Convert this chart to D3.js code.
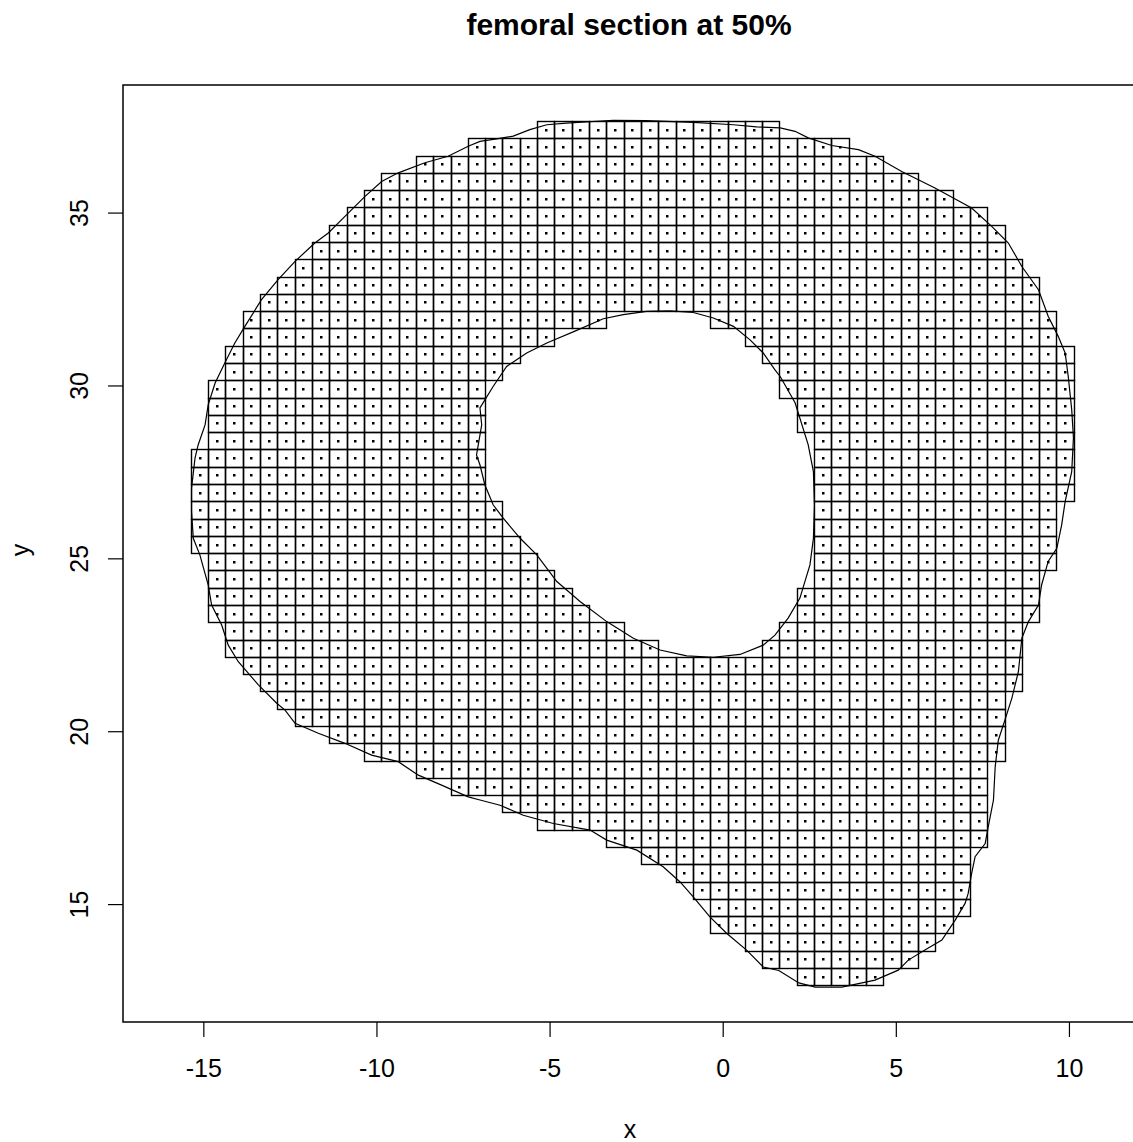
<!DOCTYPE html>
<html><head><meta charset="utf-8">
<script src="https://cdn.jsdelivr.net/npm/d3@7"></script>
<style>body{margin:0;background:#fff}</style>
</head><body>
<script>
// ---- data ----
const outerX = [-7.01,-6.53,-6.05,-5.57,-5.08,-4.51,-3.16,-2.20,-0.85,0.31,0.98,1.66,2.09,2.47,3.15,3.92,4.40,5.17,6.13,7.19,7.77,8.25,8.64,9.12,9.40,9.69,9.89,9.98,10.08,10.13,10.08,9.89,9.79,9.65,9.40,9.21,9.12,8.83,8.64,8.54,8.35,8.15,7.96,7.87,7.82,7.67,7.58,7.29,7.19,7.09,7.00,6.71,6.33,5.84,5.36,5.07,4.40,3.44,2.67,2.20,1.62,1.17,0.69,0.12,-0.37,-0.85,-1.23,-1.72,-2.48,-3.35,-3.83,-4.89,-5.76,-6.43,-7.01,-7.35,-8.12,-8.79,-9.37,-10.14,-10.91,-11.68,-12.35,-12.64,-12.88,-13.41,-13.99,-14.28,-14.47,-14.76,-14.86,-15.10,-15.29,-15.34,-15.34,-15.24,-15.15,-14.95,-14.86,-14.66,-14.38,-14.09,-13.80,-13.32,-12.84,-12.35,-11.78,-11.39,-10.91,-10.33,-9.85,-9.37,-8.60,-7.93,-7.35];
const outerY = [37.06,37.13,37.21,37.40,37.54,37.59,37.67,37.66,37.61,37.54,37.48,37.45,37.35,37.16,36.94,36.82,36.63,36.19,35.71,35.13,34.60,34.12,33.44,32.77,32.00,31.42,30.94,30.26,29.30,28.49,27.51,26.64,25.97,25.29,24.91,24.23,23.65,23.17,22.69,21.72,20.95,20.32,19.74,18.97,18.01,17.24,16.75,16.37,15.89,15.31,15.02,14.53,13.96,13.67,13.38,13.09,12.80,12.60,12.60,12.72,13.08,13.18,13.67,14.15,14.63,15.21,15.64,16.08,16.56,16.85,17.14,17.33,17.57,17.86,18.01,18.10,18.44,18.73,19.12,19.31,19.65,19.94,20.23,20.61,20.81,21.34,22.01,22.49,23.07,23.65,24.23,25.10,25.58,26.35,27.03,27.90,28.28,28.86,29.44,30.07,30.65,31.23,31.71,32.48,33.06,33.59,34.12,34.41,34.89,35.47,35.90,36.15,36.44,36.63,36.92];
const innerX = [-7.01,-6.63,-6.24,-5.66,-5.08,-4.25,-3.45,-2.87,-2.20,-1.52,-0.85,-0.27,0.31,0.79,1.17,1.51,1.66,2.09,2.47,2.62,2.65,2.62,2.52,2.23,1.89,1.51,1.17,0.50,-0.27,-1.04,-1.81,-2.58,-3.35,-4.12,-4.79,-5.37,-5.85,-6.34,-6.63,-6.87,-7.01,-7.11,-6.96];
const innerY = [29.35,29.97,30.55,30.94,31.23,31.58,31.93,32.05,32.14,32.16,32.11,31.95,31.71,31.32,30.94,30.45,30.26,29.50,28.28,27.51,26.55,25.58,24.81,23.85,23.27,22.78,22.49,22.22,22.14,22.18,22.35,22.69,23.17,23.75,24.33,25.10,25.58,26.16,26.55,27.13,27.70,27.99,28.86];
const xTicks = [-15, -10, -5, 0, 5, 10];
const yTicks = [15, 20, 25, 30, 35];
const cellSize = 0.5;
const gridX0 = -15.36, gridNX = 51;
const gridY0 = 12.65, gridNY = 50;
const titleText = "femoral section at 50%";

// ---- drawing ----
const W = 1133, H = 1142;
const FONT = "'Liberation Sans', Arial, Helvetica, sans-serif";
const svg = d3.select("body").append("svg").attr("width", W).attr("height", H);
svg.append("rect").attr("width", W).attr("height", H).attr("fill", "#fff");

const x = d3.scaleLinear().domain([-17.32, 12.11]).range([123, 1142]);
const y = d3.scaleLinear().domain([11.59, 38.69]).range([1022, 85]);

const outer = outerX.map((v, i) => [v, outerY[i]]);
const inner = innerX.map((v, i) => [v, innerY[i]]);

const cells = [];
for (let i = 0; i < gridNX; i++) {
  for (let j = 0; j < gridNY; j++) {
    const x0 = gridX0 + i * cellSize, y0 = gridY0 + j * cellSize;
    const c = [x0 + cellSize / 2, y0 + cellSize / 2];
    if (d3.polygonContains(outer, c) && !d3.polygonContains(inner, c)) cells.push({x0, y0, cx: c[0], cy: c[1]});
  }
}

const gCells = svg.append("g");
gCells.selectAll("rect.cell").data(cells).join("rect")
  .attr("class", "cell")
  .attr("x", d => Math.round(x(d.x0)) + 0.5)
  .attr("y", d => Math.round(y(d.y0 + cellSize)) + 0.5)
  .attr("width", d => Math.round(x(d.x0 + cellSize)) - Math.round(x(d.x0)))
  .attr("height", d => Math.round(y(d.y0)) - Math.round(y(d.y0 + cellSize)))
  .attr("fill", "none").attr("stroke", "#000").attr("stroke-width", 1.4);

gCells.selectAll("rect.dot").data(cells).join("rect")
  .attr("class", "dot")
  .attr("x", d => Math.round(x(d.cx)) - 1)
  .attr("y", d => Math.round(y(d.cy)) - 1)
  .attr("width", 2.5).attr("height", 2.5)
  .attr("fill", "#000");

const line = d3.line().x(d => x(d[0])).y(d => y(d[1]));
svg.append("path").attr("d", line(outer) + "Z").attr("fill", "none").attr("stroke", "#000").attr("stroke-width", 1.2);
svg.append("path").attr("d", line(inner) + "Z").attr("fill", "none").attr("stroke", "#000").attr("stroke-width", 1.2);

// box
svg.append("rect").attr("x", 123).attr("y", 85).attr("width", 1142 - 123).attr("height", 1022 - 85)
  .attr("fill", "none").attr("stroke", "#000").attr("stroke-width", 1.5);

// x axis
const gx = svg.append("g").attr("transform", "translate(0,1022)")
  .call(d3.axisBottom(x).tickValues(xTicks).tickSize(15).tickPadding(22).tickFormat(d => String(d)));
gx.select(".domain").remove();
gx.selectAll("line").attr("stroke", "#000").attr("stroke-width", 1.2);
gx.selectAll("text").attr("font-family", FONT).attr("font-size", 25).attr("fill", "#000");

// y axis
const gy = svg.append("g").attr("transform", "translate(123,0)")
  .call(d3.axisLeft(y).tickValues(yTicks).tickSize(15).tickFormat(d => String(d)));
gy.select(".domain").remove();
gy.selectAll("line").attr("stroke", "#000").attr("stroke-width", 1.2);
gy.selectAll("text")
  .attr("x", 0).attr("y", 0).attr("dy", 0)
  .attr("text-anchor", "middle")
  .attr("transform", "translate(-35,0) rotate(-90)")
  .attr("font-family", FONT).attr("font-size", 25).attr("fill", "#000");

// labels
svg.append("text").attr("x", 630).attr("y", 1138).attr("text-anchor", "middle")
  .attr("font-family", FONT).attr("font-size", 25).text("x");
svg.append("text").attr("transform", "translate(29,550) rotate(-90)").attr("text-anchor", "middle")
  .attr("font-family", FONT).attr("font-size", 25).text("y");
svg.append("text").attr("x", 629).attr("y", 35).attr("text-anchor", "middle")
  .attr("font-family", FONT).attr("font-size", 30).attr("font-weight", "bold").text(titleText);
</script>
</body></html>
